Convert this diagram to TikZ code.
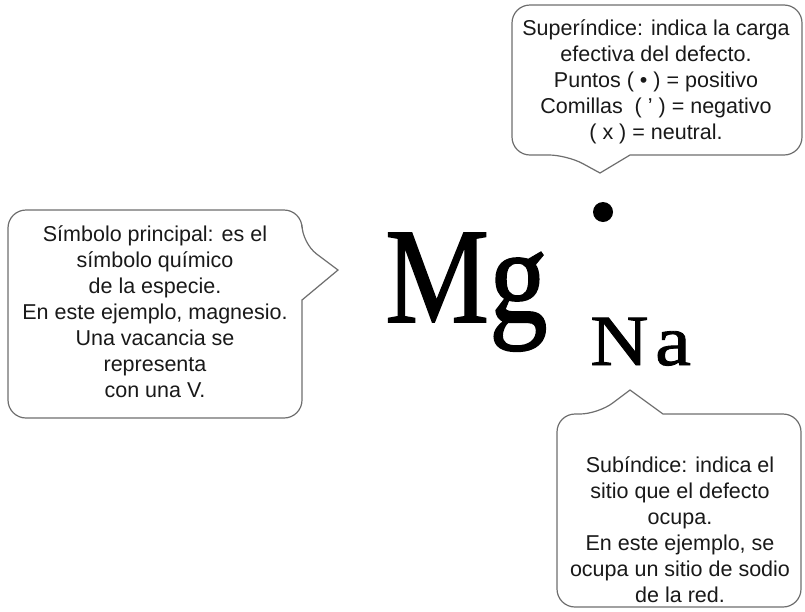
\documentclass[tikz,border=0pt]{standalone}
\usepackage{fontspec}
\setmainfont{Liberation Sans}
\newfontfamily\symfont[FakeBold=1.2]{Liberation Serif}
\definecolor{edge}{RGB}{110,110,110}
\definecolor{ink}{RGB}{25,25,25}
\tikzset{
  bubble/.style={draw=edge, line width=1.2pt, rounded corners=18pt, fill=white},
  note/.style={align=center, text=ink, inner sep=0pt, font=\fontsize{21.5}{26}\selectfont},
  bigsym/.style={inner sep=0pt, anchor=base west, text=black}
}
\begin{document}
\begin{tikzpicture}[x=1pt,y=-1pt]
\useasboundingbox (0,0) rectangle (805,611);
% top bubble
\draw[bubble] (630,155) -- (802,155) -- (802,5) -- (512,5) -- (512,155) -- (567,155) [sharp corners] -- (600,173) -- cycle;
\node[note] (sup) at (656,82) {Superíndice: indica la carga\\efectiva del defecto.\\Puntos ( • ) = positivo\\Comillas\ \ ( ' ) = negativo\\( x ) = neutral.};
% left bubble
\draw[bubble] (302,300) -- (302,418) -- (8,418) -- (8,210) -- (302,210) -- (302,243) [sharp corners] -- (338,270) -- cycle;
\node[note] (main) at (155,312) {Símbolo principal: es el\\símbolo químico\\de la especie.\\En este ejemplo, magnesio.\\Una vacancia se\\representa\\con una V.};
% bottom bubble
\draw[bubble] (663,414) -- (801,414) -- (801,607) -- (557,607) -- (557,414) -- (598,414) [sharp corners] -- (630,390) -- cycle;
\node[note] (sub) at (680,530) {Subíndice: indica el\\sitio que el defecto\\ocupa.\\En este ejemplo, se\\ocupa un sitio de sodio\\de la red.};
% symbol
\node[bigsym, xscale=0.86] (mg) at (385,322) {\symfont\fontsize{136}{136}\selectfont Mg};
\node[bigsym, xscale=1.12] (na) at (590,365) {\symfont\fontsize{72}{72}\selectfont N\kern6pt a};
\fill[black] (603,212) circle (10) coordinate (dot);
\end{tikzpicture}
\end{document}
